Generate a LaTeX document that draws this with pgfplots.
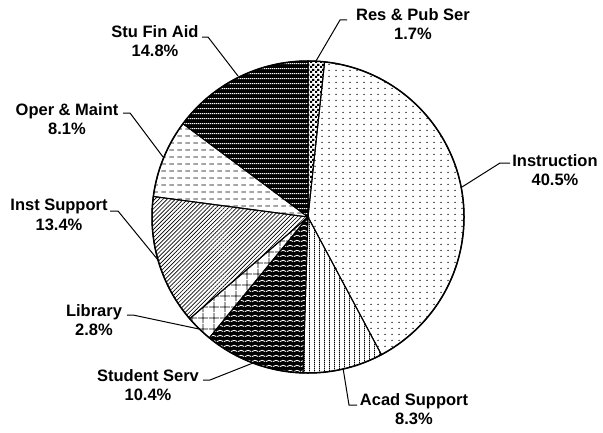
\documentclass[border=0pt]{standalone}
\usepackage{fontspec}
\setmainfont{Liberation Sans}
\usepackage{pgfplots}
\pgfplotsset{compat=1.18}
\usepackage{pgfplotstable}
\usetikzlibrary{patterns,patterns.meta}

\pgfdeclarepatternformonly{sparsedots}{\pgfpointorigin}{\pgfqpoint{6.5bp}{6bp}}{\pgfqpoint{6.5bp}{6bp}}{%
  \pgfpathcircle{\pgfqpoint{3.25bp}{3bp}}{0.8bp}\pgfusepath{fill}}
\pgfdeclarepatternformonly{vlines}{\pgfpointorigin}{\pgfqpoint{5.4bp}{2bp}}{\pgfqpoint{5.4bp}{2bp}}{%
  \pgfsetlinewidth{0.9bp}\pgfpathmoveto{\pgfqpoint{2.7bp}{0bp}}\pgfpathlineto{\pgfqpoint{2.7bp}{2bp}}\pgfusepath{stroke}}
\pgfdeclarepatternformonly{hlinesw}{\pgfpointorigin}{\pgfqpoint{2bp}{5.3bp}}{\pgfqpoint{2bp}{5.3bp}}{%
  \pgfsetlinewidth{1.1bp}\pgfpathmoveto{\pgfqpoint{0bp}{2.65bp}}\pgfpathlineto{\pgfqpoint{2bp}{2.65bp}}\pgfusepath{stroke}}
\pgfdeclarepatternformonly{dashes}{\pgfpointorigin}{\pgfqpoint{8bp}{7bp}}{\pgfqpoint{8bp}{7bp}}{%
  \pgfsetlinewidth{0.9bp}\pgfpathmoveto{\pgfqpoint{1.5bp}{3.5bp}}\pgfpathlineto{\pgfqpoint{6.5bp}{3.5bp}}\pgfusepath{stroke}}
\pgfdeclarepatternformonly{biggrid}{\pgfpointorigin}{\pgfqpoint{11bp}{11bp}}{\pgfqpoint{11bp}{11bp}}{%
  \pgfsetlinewidth{0.8bp}\pgfpathmoveto{\pgfqpoint{5.5bp}{0bp}}\pgfpathlineto{\pgfqpoint{5.5bp}{11bp}}%
  \pgfpathmoveto{\pgfqpoint{0bp}{5.5bp}}\pgfpathlineto{\pgfqpoint{11bp}{5.5bp}}\pgfusepath{stroke}}
\pgfdeclarepatternformonly{checks}{\pgfpointorigin}{\pgfqpoint{5bp}{5bp}}{\pgfqpoint{5bp}{5bp}}{%
  \pgfpathrectangle{\pgfqpoint{0bp}{0bp}}{\pgfqpoint{2.5bp}{2.5bp}}%
  \pgfpathrectangle{\pgfqpoint{2.5bp}{2.5bp}}{\pgfqpoint{2.5bp}{2.5bp}}\pgfusepath{fill}}
\pgfdeclarepatternformonly{waves}{\pgfpointorigin}{\pgfqpoint{7bp}{5bp}}{\pgfqpoint{7bp}{5bp}}{%
  \pgfsetlinewidth{1bp}\pgfpathmoveto{\pgfqpoint{0bp}{1.8bp}}%
  \pgfpathcurveto{\pgfqpoint{1.75bp}{1.8bp}}{\pgfqpoint{1.75bp}{3.2bp}}{\pgfqpoint{3.5bp}{3.2bp}}%
  \pgfpathcurveto{\pgfqpoint{5.25bp}{3.2bp}}{\pgfqpoint{5.25bp}{1.8bp}}{\pgfqpoint{7bp}{1.8bp}}\pgfusepath{stroke}}

% shares in percent, clockwise from 12 o'clock
\pgfplotstableread{
value
1.7
40.5
8.3
10.4
2.8
13.4
8.1
14.8
}\piedata

\newcommand\slice[2]{\path[#2] (axis cs:308,215) -- ++(\csname sa#1\endcsname:156bp)
  arc[start angle=\csname sa#1\endcsname, end angle=\csname ea#1\endcsname, radius=156bp] -- cycle;}

\begin{document}
\begin{tikzpicture}
\xdef\cum{0}
\foreach \i in {0,...,7}{%
  \pgfplotstablegetelem{\i}{value}\of\piedata
  \pgfmathsetmacro\st{90-3.6*\cum}%
  \pgfmathsetmacro\newcum{\cum+\pgfplotsretval}%
  \xdef\cum{\newcum}%
  \expandafter\xdef\csname sa\i\endcsname{\st}%
  \pgfmathsetmacro\en{90-3.6*\cum}%
  \expandafter\xdef\csname ea\i\endcsname{\en}%
}
\begin{axis}[
  x=1bp, y=1bp, disabledatascaling,
  xmin=0, xmax=603, ymin=0, ymax=432,
  hide axis, clip=false,
]
\path (axis cs:0,0) rectangle (axis cs:603,432);
\slice{0}{pattern=checks, draw=black, line width=1bp}
\slice{1}{pattern=sparsedots, draw=black, line width=1bp}
\slice{2}{pattern=vlines, draw=black, line width=1bp}
\slice{3}{fill=black, postaction={pattern=waves, pattern color=white}}
\slice{3}{draw=black, line width=1bp}
\slice{4}{pattern=biggrid, draw=black, line width=1bp}
\slice{5}{pattern={Lines[angle=45,distance=2.9bp,line width=0.65bp]}, draw=black, line width=1bp}
\slice{6}{pattern=dashes, draw=black, line width=1bp}
\slice{7}{fill=black, postaction={pattern=hlinesw, pattern color=white}}
\slice{7}{draw=black, line width=1bp}
\draw[line width=1.5bp] (axis cs:308,215) circle[radius=156bp];

% leader lines
\draw[line width=1bp] (axis cs:347,412) -- (axis cs:340,412) -- (axis cs:316,371);
\draw[line width=1bp] (axis cs:510,269) -- (axis cs:500,269) -- (axis cs:462,245);
\draw[line width=1bp] (axis cs:357,27) -- (axis cs:349,27) -- (axis cs:343,64);
\draw[line width=1bp] (axis cs:203,52) -- (axis cs:210,52) -- (axis cs:253,69);
\draw[line width=1bp] (axis cs:127,117) -- (axis cs:133,117) -- (axis cs:199,103);
\draw[line width=1bp] (axis cs:110,221) -- (axis cs:118,221) -- (axis cs:158,172);
\draw[line width=1bp] (axis cs:123,319) -- (axis cs:130,319) -- (axis cs:163,275);
\draw[line width=1bp] (axis cs:202,395) -- (axis cs:208,395) -- (axis cs:238,356);

\tikzset{lab/.style={align=center, inner sep=0pt, font=\bfseries\fontsize{16.5bp}{19.5bp}\selectfont}}
\node[lab] at (axis cs:413,408) {Res \& Pub Ser\\1.7\%};
\node[lab] at (axis cs:555,262) {Instruction\\40.5\%};
\node[lab] at (axis cs:414,23) {Acad Support\\8.3\%};
\node[lab] at (axis cs:148,47) {Student Serv\\10.4\%};
\node[lab] at (axis cs:94,112) {Library\\2.8\%};
\node[lab] at (axis cs:59,217) {Inst Support\\13.4\%};
\node[lab] at (axis cs:67,313) {Oper \& Maint\\8.1\%};
\node[lab] at (axis cs:155,391) {Stu Fin Aid\\14.8\%};
\end{axis}
\end{tikzpicture}
\end{document}
